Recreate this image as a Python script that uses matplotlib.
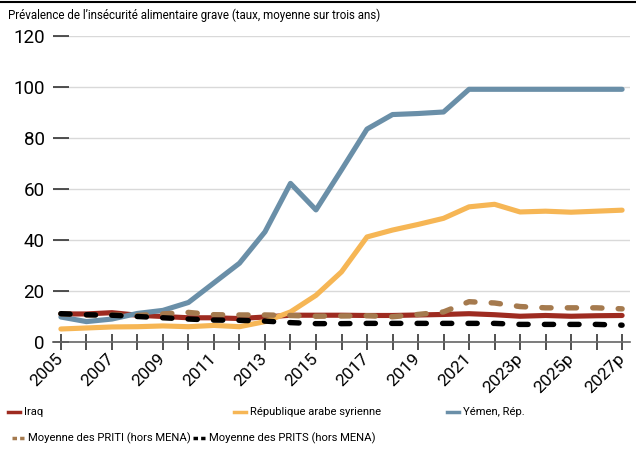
import numpy as np
import matplotlib
matplotlib.use("Agg")
import matplotlib.pyplot as plt
from matplotlib.lines import Line2D

plt.rcParams['font.family'] = ['Roboto', 'DejaVu Sans']

years = ['2005', '2006', '2007', '2008', '2009', '2010', '2011', '2012', '2013',
         '2014', '2015', '2016', '2017', '2018', '2019', '2020', '2021', '2022',
         '2023p', '2024p', '2025p', '2026p', '2027p']

iraq = [11.0, 11.0, 11.5, 10.5, 10.0, 9.5, 9.5, 9.2, 9.8, 10.5, 10.5, 10.5,
        10.4, 10.4, 10.6, 10.8, 11.1, 10.7, 10.1, 10.4, 10.1, 10.3, 10.4]
syria = [5.1, 5.5, 5.9, 6.0, 6.3, 6.0, 6.5, 6.0, 8.0, 11.8, 18.3, 27.5,
         41.2, 43.9, 46.1, 48.5, 53.0, 54.0, 51.0, 51.3, 50.9, 51.3, 51.7]
yemen = [9.8, 8.0, 9.0, 11.2, 12.4, 15.5, 23.2, 30.9, 43.2, 62.2, 51.8, 67.5,
         83.5, 89.2, 89.6, 90.2, 99.1, 99.1, 99.1, 99.1, 99.1, 99.1, 99.1]
priti = [11.1, 10.6, 10.6, 10.4, 11.0, 11.6, 10.7, 10.6, 10.6, 10.4, 10.1, 10.2,
         10.3, 9.9, 10.8, 11.8, 15.8, 15.3, 13.9, 13.4, 13.4, 13.4, 13.0]
prits = [11.1, 10.7, 10.5, 10.0, 9.5, 9.0, 8.6, 8.5, 8.2, 7.6, 7.2, 7.2,
         7.3, 7.3, 7.3, 7.3, 7.3, 7.3, 6.9, 6.9, 6.9, 6.9, 6.6]

labels = ['Iraq', 'République arabe syrienne', 'Yémen, Rép.',
          'Moyenne des PRITI (hors MENA)', 'Moyenne des PRITS (hors MENA)']
colors = ['#9e2b20', '#f6b655', '#6a8fa8', '#a57a4e', '#000000']

fig = plt.figure(figsize=(6.36, 4.49), dpi=100)
ax = fig.add_axes([53 / 636, 1 - 342 / 449, 577 / 636, 306 / 449])

x = np.arange(len(years))
dash = (0, (1.7, 3.0))
ax.plot(x, iraq, color=colors[0], lw=3.7, solid_capstyle='round', zorder=3)
ax.plot(x, yemen, color=colors[2], lw=3.7, solid_capstyle='round', zorder=3)
ax.plot(x, syria, color=colors[1], lw=3.7, solid_capstyle='round', zorder=3)
ax.plot(x, priti, color=colors[3], lw=3.9, ls=dash, dash_capstyle='round', zorder=3)
ax.plot(x, prits, color=colors[4], lw=3.9, ls=dash, dash_capstyle='round', zorder=3)

ax.set_xlim(-0.31, 22.31)
ax.set_ylim(0, 120)
ax.set_yticks(range(0, 121, 20))
ax.set_xticks(x)
ax.set_xticklabels([y if i % 2 == 0 else '' for i, y in enumerate(years)],
                   rotation=45, ha='right', rotation_mode='anchor', va='center')

ax.yaxis.grid(True, color='#d9d9d9', lw=1)
ax.set_axisbelow(True)
for s in ['top', 'right', 'left']:
    ax.spines[s].set_visible(False)
ax.spines['bottom'].set_color('#666666')
ax.spines['bottom'].set_linewidth(1.2)
ax.tick_params(axis='y', direction='in', length=11.5, width=1.2, color='#333333',
               pad=6, labelsize=13.5)
ax.tick_params(axis='x', direction='inout', length=12, width=1.2, color='#333333',
               pad=4, labelsize=12.5)

# title and top rule
fig.add_artist(Line2D([0, 1], [1 - 2 / 449] * 2, color='black', lw=1.5))
fig.text(8 / 636, 1 - 15 / 449, 'Prévalence de l\u2019insécurité alimentaire grave (taux, moyenne sur trois ans)',
         fontsize=8.3, va='center', ha='left')

# legend
items = [(0, 8, 412), (1, 234, 412), (2, 447, 412), (3, 12, 438), (4, 193, 438)]
for i, px, py in items:
    yy = 1 - py / 449
    ls = '-' if i < 3 else (0, (1.3, 0.9))
    fig.add_artist(Line2D([px / 636, (px + 12) / 636], [yy, yy], color=colors[i],
                          lw=2.5, ls=ls))
    fig.text((px + 16) / 636, yy, labels[i], fontsize=8.1, va='center', ha='left')

fig.savefig('out.png', dpi=100)
